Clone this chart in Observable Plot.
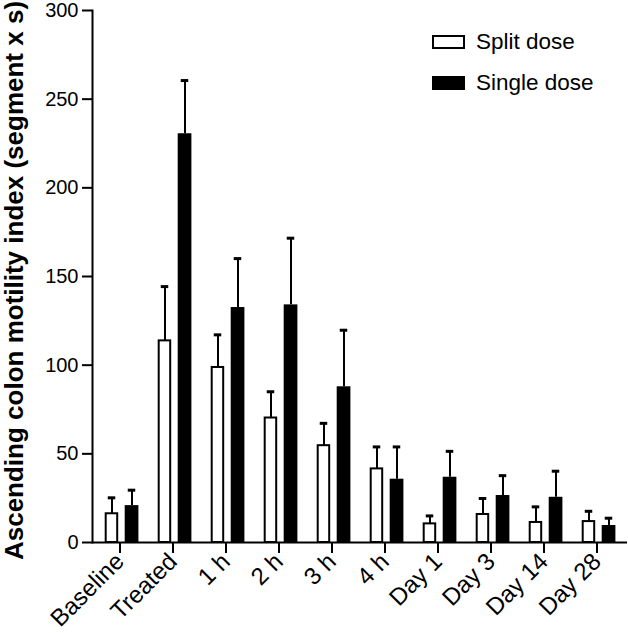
<!DOCTYPE html>
<html>
<head>
<meta charset="utf-8">
<script src="https://cdn.jsdelivr.net/npm/d3@7"></script>
<script src="https://cdn.jsdelivr.net/npm/@observablehq/plot@0.6"></script>
<style>
  html, body { margin: 0; padding: 0; background: white; }
  #wrap { position: relative; width: 628px; height: 633px; font-family: "Liberation Sans", Arial, sans-serif; }
  .lg { position: absolute; left: 432px; display: flex; align-items: center; font-size: 22.5px; color: black; line-height: 1; }
  .sw { width: 29px; height: 10px; border: 2px solid black; margin-right: 11px; }
</style>
</head>
<body>
<div id="wrap"></div>
<script>
const categories = ["Baseline", "Treated", "1 h", "2 h", "3 h", "4 h", "Day 1", "Day 3", "Day 14", "Day 28"];
const seriesNames = ["Split dose", "Single dose"];
const splitMean = [16.2, 113.7, 98.7, 70.2, 54.6, 41.5, 10.5, 15.8, 11.3, 11.8];
const splitErr = [9.0, 30.6, 18.4, 14.8, 12.6, 12.4, 4.5, 9.0, 8.8, 5.8];
const singleMean = [20.8, 230.5, 132.5, 134.0, 87.8, 35.7, 36.8, 26.5, 25.5, 9.6];
const singleErr = [8.7, 30.0, 27.6, 37.6, 31.9, 18.2, 14.6, 11.2, 14.7, 4.1];
const yTicks = [0, 50, 100, 150, 200, 250, 300];
const yTitle = "Ascending colon motility index (segment x s)";

const split = categories.map((c, i) => ({cat: c, mean: splitMean[i], top: splitMean[i] + splitErr[i]}));
const single = categories.map((c, i) => ({cat: c, mean: singleMean[i], top: singleMean[i] + singleErr[i]}));

const chart = Plot.plot({
  width: 628,
  height: 633,
  marginLeft: 92,
  marginRight: 1,
  marginTop: 10,
  marginBottom: 91,
  style: {fontFamily: "'Liberation Sans', Arial, sans-serif", fontSize: "20px", color: "black", background: "white"},
  x: {type: "band", domain: categories, padding: 0, label: null},
  y: {domain: [0, 300], label: null},
  marks: [
    Plot.barY(split, {x: "cat", y: "mean", fill: "white", stroke: "black", strokeWidth: 2, insetLeft: 10.7, insetRight: 30.8}),
    Plot.barY(single, {x: "cat", y: "mean", fill: "black", insetLeft: 29.7, insetRight: 9.6}),
    Plot.ruleX(split, {x: "cat", y1: "mean", y2: "top", dx: -10, stroke: "black", strokeWidth: 2}),
    Plot.ruleX(single, {x: "cat", y1: "mean", y2: "top", dx: 10, stroke: "black", strokeWidth: 2}),
    Plot.tickY(split, {x: "cat", y: "top", insetLeft: 12.75, insetRight: 32.75, stroke: "black", strokeWidth: 3}),
    Plot.tickY(single, {x: "cat", y: "top", insetLeft: 32.75, insetRight: 12.75, stroke: "black", strokeWidth: 3}),
    Plot.frame({anchor: "left", stroke: "black", strokeWidth: 2}),
    Plot.ruleY([0], {stroke: "black", strokeWidth: 2}),
    Plot.axisY({ticks: yTicks, tickSize: 10, tickPadding: 4, strokeWidth: 2, fontSize: 20, label: null}),
    Plot.axisX({tickSize: 11, tickRotate: -45, tickPadding: 4, strokeWidth: 2, fontSize: 24, label: null, dx: -2}),
    Plot.text([yTitle], {text: d => d, frameAnchor: "left", textAnchor: "middle", rotate: -90, dx: -78, dy: 4, fontSize: 26, fontWeight: "bold", fill: "black"})
  ]
});

const wrap = document.getElementById("wrap");
wrap.appendChild(chart);

const fills = ["white", "black"];
const tops = [31, 72];
seriesNames.forEach((name, i) => {
  const row = document.createElement("div");
  row.className = "lg";
  row.style.top = tops[i] + "px";
  const sw = document.createElement("div");
  sw.className = "sw";
  sw.style.background = fills[i];
  row.appendChild(sw);
  const t = document.createElement("span");
  t.textContent = name;
  row.appendChild(t);
  wrap.appendChild(row);
});
</script>
</body>
</html>
